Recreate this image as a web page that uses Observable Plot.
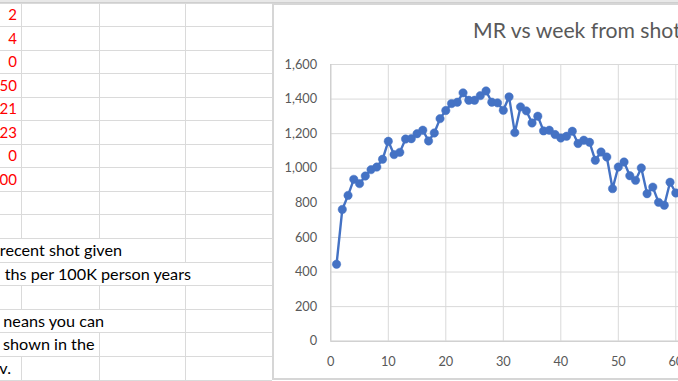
<!DOCTYPE html>
<html><head><meta charset="utf-8">
<script src="https://cdn.jsdelivr.net/npm/d3@7"></script>
<script src="https://cdn.jsdelivr.net/npm/@observablehq/plot@0.6"></script>
<style>
html,body{margin:0;padding:0;width:678px;height:381px;overflow:hidden;background:#fff;font-family:Lato,"Open Sans",sans-serif;}
.h{position:absolute;height:1px;background:#dadada;}
.v{position:absolute;width:1px;background:#dadada;}
.cell{position:absolute;white-space:nowrap;font-size:16.2px;text-align:right;color:#000;}
.num{font-size:15px;}
#topband{position:absolute;left:0;top:0;width:678px;height:2px;background:#e8e8e8;border-bottom:1px solid #cfcfcf;}
#chartbox{position:absolute;left:272px;top:3px;width:470px;height:373px;border:2px solid #d6d6d6;background:#fff;}
#title{position:absolute;left:473px;top:18.4px;font-size:21.2px;line-height:25.4px;color:#595959;white-space:nowrap;}
#plot{position:absolute;left:275px;top:5px;width:460px;height:372px;}
#plot svg{max-width:none !important;}
</style>
</head><body>
<div id="sheet"></div>
<div id="topband"></div>
<div id="chartbox"></div>
<div id="title"></div>
<div id="plot"></div>
<script>
// ---- data ----
const chartTitle = "MR vs week from shot";
const weeks = [1,2,3,4,5,6,7,8,9,10,11,12,13,14,15,16,17,18,19,20,21,22,23,24,25,26,27,28,29,30,31,32,33,34,35,36,37,38,39,40,41,42,43,44,45,46,47,48,49,50,51,52,53,54,55,56,57,58,59,60];
const mr = [445,762,843,936,911,955,992,1007,1052,1156,
            1079,1092,1169,1171,1200,1220,1158,1204,1287,1334,
            1374,1382,1436,1393,1393,1420,1447,1382,1378,1335,
            1413,1206,1355,1332,1262,1301,1216,1220,1195,1175,
            1185,1214,1143,1162,1150,1046,1094,1065,882,1007,
            1036,957,930,1002,853,891,803,786,919,857];
const xTicks = [0,10,20,30,40,50,60,70];
const yTicks = [0,200,400,600,800,1000,1200,1400,1600];
const redNumbers = ["2","4","0","50","21","23","0","00"];
const noteTexts = ["recent shot given","ths per 100K person years","","neans you can","shown in the","v."];

// ---- spreadsheet backdrop (layout) ----
const sheet = document.getElementById("sheet");
const rowEdges = [3,26,50,73,97,120,144,167,191,214,238,262,285,309,332,356,380];
const colEdges = [20.5,98.5,185,272];
const noteRowStart = 10;
const noteEnds = [122,191,0,104,94.5,11];
const hidden = {10:[0,1],11:[0,1,2],13:[0,1],14:[0]};
function el(cls, css, txt){const d=document.createElement("div");d.className=cls;Object.assign(d.style,css);if(txt!=null)d.textContent=txt;sheet.appendChild(d);return d;}
rowEdges.forEach(y=>el("h",{left:"0px",top:y+"px",width:"272px"}));
for(let r=0;r<rowEdges.length-1;r++){
  const y0=rowEdges[r], y1=rowEdges[r+1];
  colEdges.forEach((x,ci)=>{
    if(hidden[r] && hidden[r].includes(ci)) return;
    el("v",{left:x+"px",top:y0+"px",height:(y1-y0)+"px"});
  });
}
[404,526,623].forEach(x=>el("v",{left:x+"px",top:"0px",height:"3px"}));
redNumbers.forEach((t,i)=>{
  const y0=rowEdges[i], h=rowEdges[i+1]-y0;
  el("cell num",{right:(678-17)+"px",top:y0+"px",height:h+"px",lineHeight:h+"px",color:"#ff0000"},t);
});
noteTexts.forEach((t,i)=>{
  if(!t) return;
  const r=noteRowStart+i, y0=rowEdges[r], h=rowEdges[r+1]-y0;
  el("cell",{right:(678-noteEnds[i])+"px",top:y0+"px",height:h+"px",lineHeight:h+"px"},t);
});

document.getElementById("title").textContent = chartTitle;

// ---- chart ----
const rows = weeks.map((w,i)=>({week:w, mr:mr[i]}));
const chart = Plot.plot({
  width: 460, height: 372,
  marginLeft: 55.3, marginRight: 2.2, marginTop: 59, marginBottom: 36.3,
  style: {background:"transparent", color:"#595959", fontSize:"12.8px", fontFamily:"Lato, sans-serif", overflow:"visible", maxWidth:"none"},
  x: {domain:[0,70], label:null},
  y: {domain:[0,1600], label:null},
  marks: [
    Plot.gridX(xTicks, {stroke:"#d9d9d9", strokeOpacity:1}),
    Plot.gridY(yTicks, {stroke:"#d9d9d9", strokeOpacity:1}),
    Plot.ruleX([0], {stroke:"#c8c8c8"}),
    Plot.ruleY([0], {stroke:"#c8c8c8"}),
    Plot.axisX(xTicks, {tickSize:0, tickPadding:15.5, fill:"#595959"}),
    Plot.axisY(yTicks, {tickSize:0, tickPadding:13.6, tickFormat:d3.format(","), fill:"#595959"}),
    Plot.line(rows, {x:"week", y:"mr", stroke:"#4472C4", strokeWidth:2.4}),
    Plot.dot(rows, {x:"week", y:"mr", r:4.2, fill:"#4472C4", stroke:"#4472C4", strokeWidth:0.5})
  ]
});
document.getElementById("plot").appendChild(chart);
</script>
</body></html>
